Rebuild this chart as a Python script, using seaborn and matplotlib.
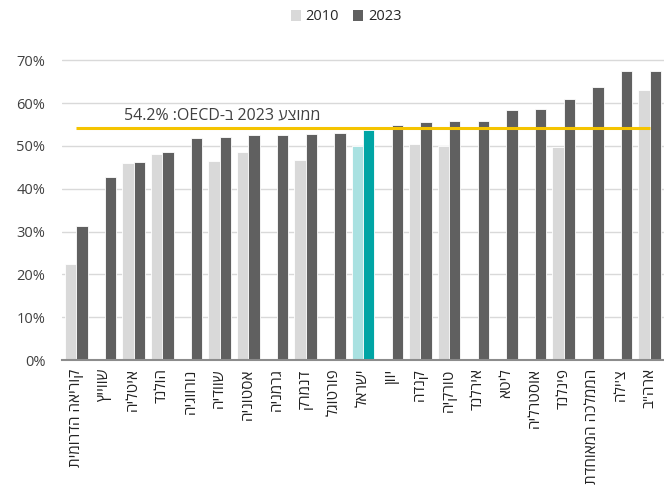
import numpy as np
import pandas as pd
import matplotlib
matplotlib.use("Agg")
import matplotlib.pyplot as plt
import seaborn as sns
from matplotlib.patches import Patch

countries = ["קוריאה הדרומית", "שווייץ", "איטליה", "הולנד", "נורווגיה", "שוודיה",
             "אסטוניה", "גרמניה", "דנמרק", "פורטוגל", "ישראל", "יוון", "קנדה",
             "טורקיה", "אירלנד", "ליטא", "אוסטרליה", "פינלנד", "הממלכה המאוחדת",
             "צ'ילה", "ארה\"ב"]
v2010 = [22.5, np.nan, 45.9, 48.1, np.nan, 46.4, 48.5, np.nan, 46.6, np.nan, 50.0,
         np.nan, 50.5, 50.0, np.nan, np.nan, np.nan, 49.7, np.nan, np.nan, 63.1]
v2023 = [31.4, 42.8, 46.2, 48.6, 51.9, 52.0, 52.5, 52.5, 52.8, 53.1, 53.8,
         54.8, 55.5, 55.7, 55.8, 58.4, 58.5, 60.9, 63.7, 67.5, 67.5]
years = ["2010", "2023"]
oecd_avg = 54.2
highlight = "ישראל"

FAM = ["Open Sans", "DejaVu Sans"]
sns.set_theme(style="white")
plt.rcParams["font.family"] = FAM

df = pd.DataFrame({
    "country": countries * 2,
    "year": [years[0]] * len(countries) + [years[1]] * len(countries),
    "value": list(v2010) + list(v2023),
})

c10, c23 = "#d9d9d9", "#606060"
h10, h23 = "#a9e1e1", "#00a5a5"

fig = plt.figure(figsize=(6.64, 4.92), dpi=100)
ax = fig.add_axes([62 / 664, 1 - 360 / 492, 602 / 664, 300 / 492 + 0.004])

sns.barplot(data=df, x="country", y="value", hue="year", order=countries,
            hue_order=years, palette=[c10, c23], width=0.8, ax=ax,
            edgecolor="white", linewidth=0.6, legend=False, zorder=3)

hi = countries.index(highlight)
for p in ax.patches:
    cx = p.get_x() + p.get_width() / 2
    if abs(cx - (hi - 0.2)) < 0.05:
        p.set_facecolor(h10)
    elif abs(cx - (hi + 0.2)) < 0.05:
        p.set_facecolor(h23)

ax.set_xlim(-0.5, len(countries) - 0.5)
ax.set_ylim(0, 70.5)
ax.set_yticks(np.arange(0, 71, 10))
ax.set_yticklabels([f"{int(t)}%" for t in np.arange(0, 71, 10)], fontsize=10.5, color="#404040")
ax.yaxis.grid(True, color="#d9d9d9", linewidth=1.0, zorder=0)
ax.set_axisbelow(True)
ax.tick_params(axis="y", length=0, pad=12)
ax.tick_params(axis="x", length=0, pad=6)
ax.set_xticks(range(len(countries)))
ax.set_xticklabels([c[::-1] for c in countries], rotation=90, ha="center", va="top",
                   fontsize=11, color="#222222")
ax.set_xlabel("")
ax.set_ylabel("")
for s in ["top", "right", "left"]:
    ax.spines[s].set_visible(False)
ax.spines["bottom"].set_color("#8c8c8c")
ax.spines["bottom"].set_linewidth(1.5)
ax.spines["bottom"].set_zorder(5)

ax.plot([0, len(countries) - 1], [oecd_avg, oecd_avg], color="#f5c400", linewidth=2.2, zorder=4,
        solid_capstyle="butt")
label = f"{oecd_avg}% :OECD-ב 2023 " + "ממוצע"[::-1]
ax.text(5.1, 55.2, label, ha="center", va="bottom", fontsize=11.5, color="#404040", zorder=6)

handles = [Patch(facecolor=c10, edgecolor="none"), Patch(facecolor=c23, edgecolor="none")]
fig.legend(handles, years, loc="center", bbox_to_anchor=(346 / 664, 1 - 17 / 492), ncol=2,
           frameon=False, fontsize=10.5, handlelength=0.7, handleheight=0.7,
           handletextpad=0.3, columnspacing=1.0)

fig.savefig("out.png", dpi=100)
